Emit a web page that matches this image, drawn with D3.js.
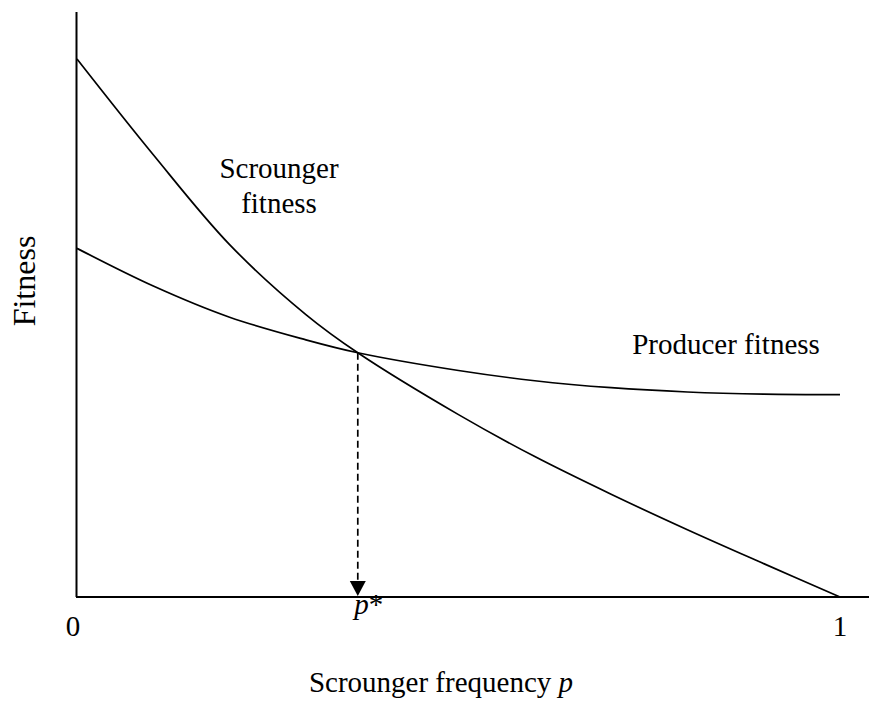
<!DOCTYPE html>
<html>
<head>
<meta charset="utf-8">
<script src="https://cdn.jsdelivr.net/npm/d3@7"></script>
<style>
  body { margin: 0; background: #fff; }
  svg text { font-family: "Liberation Serif", "Times New Roman", serif; fill: #000; }
</style>
</head>
<body>
<script>
// scrounger frequency p (x) and fitness (y, 0..1)
var pValues = [0, 0.1, 0.2, 0.3, 0.368, 0.5, 0.6, 0.7, 0.8, 0.9, 1.0];
var scroungerFit = [1.0, 0.822, 0.655, 0.525, 0.454, 0.339, 0.261, 0.191, 0.125, 0.062, 0];
var producerFit = [0.648, 0.578, 0.520, 0.478, 0.454, 0.421, 0.402, 0.389, 0.381, 0.377, 0.376];

var pStar = 0.368,
    fitStar = 0.454;
var xTicks = [0, 1];

var width = 869,
    height = 705;

var svg = d3.select("body")
    .append("svg")
    .attr("width", width)
    .attr("height", height);

// scales
var x = d3.scaleLinear().domain([0, 1]).range([77, 840]);
var y = d3.scaleLinear().domain([0, 1]).range([597, 59]);

// axes (plain lines, no ticks)
svg.append("line")
    .attr("x1", 76.5).attr("x2", 76.5)
    .attr("y1", 12).attr("y2", y(0))
    .attr("stroke", "#000").attr("stroke-width", 2);
svg.append("line")
    .attr("x1", 76).attr("x2", width)
    .attr("y1", y(0)).attr("y2", y(0))
    .attr("stroke", "#000").attr("stroke-width", 2);

var line = d3.line()
    .x(function(d){ return x(d[0]); })
    .y(function(d){ return y(d[1]); })
    .curve(d3.curveCatmullRom.alpha(0.5));

var series = [scroungerFit, producerFit];
svg.selectAll(".curve")
    .data(series)
    .enter()
    .append("path")
    .attr("class", "curve")
    .attr("d", function(s){
        return line(pValues.map(function(p, i){ return [p, s[i]]; }));
    })
    .attr("fill", "none")
    .attr("stroke", "#000")
    .attr("stroke-width", 1.7);

// dashed drop line + arrow head at p*
var headLen = 16;
svg.append("line")
    .attr("x1", x(pStar)).attr("x2", x(pStar))
    .attr("y1", y(fitStar)).attr("y2", y(0) - headLen)
    .attr("stroke", "#000")
    .attr("stroke-width", 1.7)
    .attr("stroke-dasharray", "7,4");
svg.append("path")
    .attr("d", "M" + (x(pStar) - 8) + "," + (y(0) - headLen) +
               "L" + (x(pStar) + 8) + "," + (y(0) - headLen) +
               "L" + x(pStar) + "," + (y(0) - 1) + "Z")
    .attr("fill", "#000");

// tick labels
svg.selectAll(".tick")
    .data(xTicks)
    .enter()
    .append("text")
    .attr("class", "tick")
    .attr("x", function(d){ return x(d) + (d ? 0 : -4); })
    .attr("y", 636)
    .attr("text-anchor", "middle")
    .attr("font-size", 29)
    .text(function(d){ return d; });

var pLab = svg.append("text")
    .attr("x", x(pStar) + 11)
    .attr("y", 614)
    .attr("text-anchor", "middle")
    .attr("font-size", 29);
pLab.append("tspan").attr("font-style", "italic").text("p");
pLab.append("tspan").text("*");

// curve labels
var sLab = svg.append("text")
    .attr("text-anchor", "middle")
    .attr("font-size", 29);
sLab.append("tspan").attr("x", 279).attr("y", 178).text("Scrounger");
sLab.append("tspan").attr("x", 279).attr("y", 213).text("fitness");

svg.append("text")
    .attr("x", 726)
    .attr("y", 354)
    .attr("text-anchor", "middle")
    .attr("font-size", 29)
    .text("Producer fitness");

// axis titles
var xt = svg.append("text")
    .attr("x", 441)
    .attr("y", 692)
    .attr("text-anchor", "middle")
    .attr("font-size", 29);
xt.append("tspan").text("Scrounger frequency ");
xt.append("tspan").attr("font-style", "italic").text("p");

svg.append("text")
    .attr("transform", "translate(35,281) rotate(-90)")
    .attr("text-anchor", "middle")
    .attr("font-size", 32)
    .text("Fitness");
</script>
</body>
</html>
